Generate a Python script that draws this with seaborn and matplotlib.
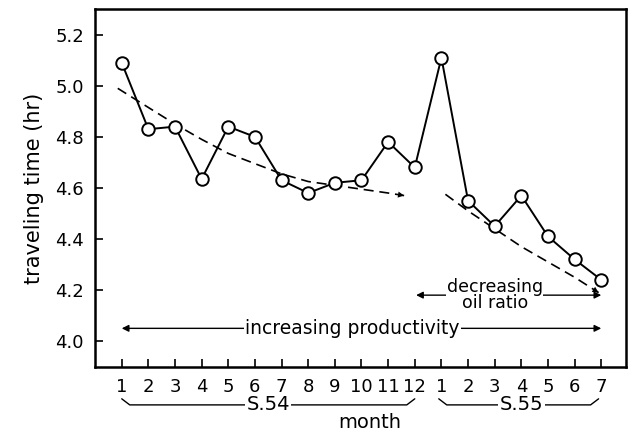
import matplotlib.pyplot as plt
import pandas as pd
import seaborn as sns
from matplotlib.transforms import blended_transform_factory

# month labels (S.54: 1-12, S.55: 1-7)
months = [str(m) for m in range(1, 13)] + [str(m) for m in range(1, 8)]
travel_time = [5.09, 4.83, 4.84, 4.635, 4.84, 4.80, 4.63, 4.58, 4.62, 4.63,
               4.78, 4.68, 5.11, 4.55, 4.45, 4.57, 4.41, 4.32, 4.24]

# dashed trend lines
trend54_x = [-0.15, 1, 2, 3, 4, 5, 6, 7, 8, 9, 10, 10.6]
trend54_y = [4.99, 4.915, 4.85, 4.79, 4.735, 4.695, 4.655, 4.625, 4.61, 4.595, 4.58, 4.57]
trend55_x = [12.15, 13, 14, 15, 16, 17, 17.9]
trend55_y = [4.575, 4.51, 4.44, 4.37, 4.31, 4.25, 4.19]

yticks = [4.0, 4.2, 4.4, 4.6, 4.8, 5.0, 5.2]

df = pd.DataFrame({"idx": range(len(months)), "time": travel_time})

sns.set_style("ticks")
plt.rcParams["font.family"] = ["DejaVu Sans"]
plt.rcParams["text.color"] = "black"
plt.rcParams["xtick.color"] = "black"
plt.rcParams["ytick.color"] = "black"
plt.rcParams["axes.labelcolor"] = "black"

fig = plt.figure(figsize=(6.34, 4.37), dpi=100)
ax = fig.add_axes([0.15, 0.161, 0.837, 0.818])

sns.lineplot(x=trend54_x, y=trend54_y, ax=ax, color="black", lw=1.2,
             dashes=False, linestyle=(0, (6, 3.5)))
sns.lineplot(x=trend55_x, y=trend55_y, ax=ax, color="black", lw=1.2,
             dashes=False, linestyle=(0, (6, 3.5)))
for tx, ty in [(trend54_x, trend54_y), (trend55_x, trend55_y)]:
    ax.annotate("", xy=(tx[-1], ty[-1]), xytext=(tx[-2], ty[-2]),
                arrowprops=dict(arrowstyle="-|>", color="black", lw=0,
                                mutation_scale=11, shrinkA=0, shrinkB=0))

sns.lineplot(data=df, x="idx", y="time", ax=ax, color="black", lw=1.4,
             marker="o", markersize=9, markerfacecolor="white",
             markeredgecolor="black", markeredgewidth=1.4, zorder=5)

# annotations
ax.annotate("", xy=(0, 4.05), xytext=(18, 4.05),
            arrowprops=dict(arrowstyle="<|-|>", color="black", lw=1.0,
                            mutation_scale=10, shrinkA=0, shrinkB=0))
ax.text(8.65, 4.05, "increasing productivity", ha="center", va="center",
        fontsize=13.5, bbox=dict(facecolor="white", edgecolor="none", pad=1))
ax.annotate("", xy=(11.05, 4.18), xytext=(18, 4.18),
            arrowprops=dict(arrowstyle="<|-|>", color="black", lw=1.0,
                            mutation_scale=10, shrinkA=0, shrinkB=0))
ax.text(14.0, 4.18, "decreasing\noil ratio", ha="center", va="center",
        fontsize=12.5, linespacing=0.9,
        bbox=dict(facecolor="white", edgecolor="none", pad=0.5))

ax.set_xlim(-1, 18.92)
ax.set_ylim(3.9, 5.3)
ax.set_xticks(range(len(months)))
ax.set_xticklabels(months, fontsize=13)
ax.set_yticks(yticks)
ax.set_yticklabels([f"{v:.1f}" for v in yticks], fontsize=13)
ax.tick_params(direction="in", length=6, width=1.2, pad=8)
ax.set_xlabel("")
ax.set_ylabel("traveling time (hr)", fontsize=15, labelpad=8)
for sp in ax.spines.values():
    sp.set_visible(True)
    sp.set_linewidth(1.8)
    sp.set_color("black")

# season braces below the month labels
trans = blended_transform_factory(ax.transData, ax.transAxes)
for x0, x1, xt, label in [(0, 11, 5.5, "S.54"), (11.9, 17.9, 15.0, "S.55")]:
    yb, yh = -0.107, -0.09
    ax.plot([x0, x0 + 0.3, x1 - 0.3, x1], [yh, yb, yb, yh], color="black",
            lw=1.0, transform=trans, clip_on=False)
    ax.text(xt, yb, label, transform=trans, ha="center", va="center",
            fontsize=14, bbox=dict(facecolor="white", edgecolor="none", pad=1))
ax.text(9.3, -0.157, "month", transform=trans, ha="center", va="center",
        fontsize=14)

fig.savefig("out.png", dpi=100)
